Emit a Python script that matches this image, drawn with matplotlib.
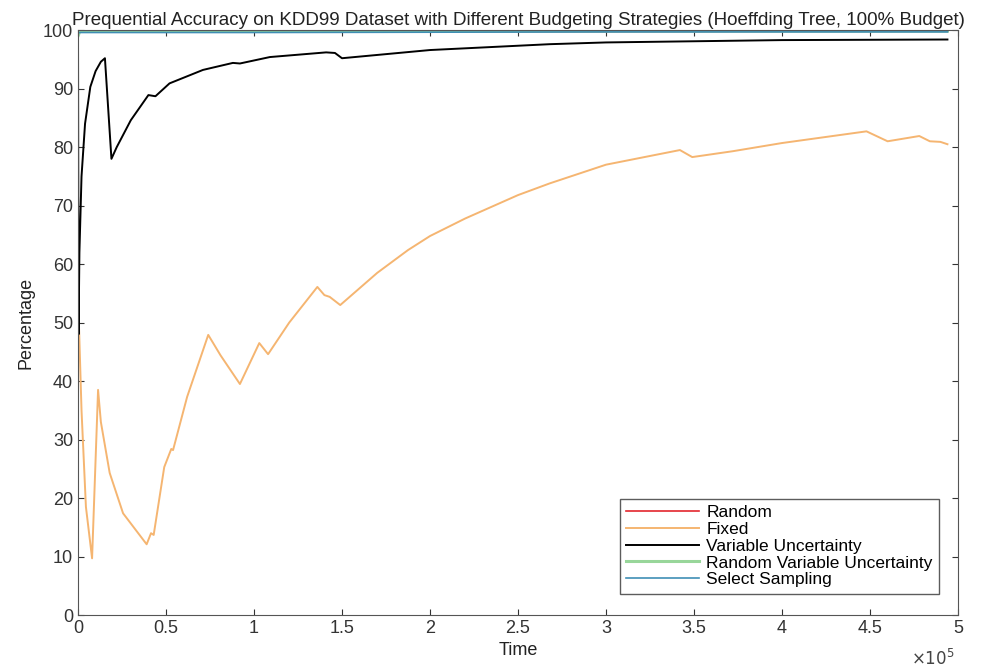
import matplotlib
matplotlib.use("Agg")
import matplotlib.pyplot as plt
from matplotlib.ticker import FuncFormatter

plt.rcParams['font.family'] = ['Liberation Sans', 'DejaVu Sans']

# values (time in samples, accuracy in %)
fixed_t = [0.005e5, 0.02e5, 0.045e5, 0.08e5, 0.114e5, 0.13e5, 0.18e5, 0.256e5, 0.39e5,
           0.415e5, 0.43e5, 0.49e5, 0.53e5, 0.54e5, 0.62e5, 0.74e5, 0.81e5, 0.92e5,
           1.03e5, 1.08e5, 1.2e5, 1.36e5, 1.40e5, 1.43e5, 1.49e5, 1.7e5, 1.875e5, 2.0e5,
           2.2e5, 2.5e5, 2.68e5, 3.0e5, 3.42e5, 3.49e5, 3.72e5, 4.0e5, 4.48e5, 4.6e5,
           4.78e5, 4.84e5, 4.90e5, 4.94e5]
fixed_acc = [50, 35, 18.5, 9.7, 38.5, 33, 24.3, 17.4, 12.1,
             14, 13.7, 25.3, 28.4, 28.2, 37.3, 47.9, 44.4, 39.5,
             46.5, 44.6, 50, 56.1, 54.7, 54.4, 53.0, 58.5, 62.4, 64.8,
             67.8, 71.8, 73.8, 77, 79.5, 78.3, 79.3, 80.7, 82.7, 81.0,
             81.9, 81.0, 80.9, 80.5]

var_t = [0, 0.003e5, 0.008e5, 0.02e5, 0.04e5, 0.07e5, 0.10e5, 0.13e5, 0.153e5, 0.19e5,
         0.22e5, 0.30e5, 0.40e5, 0.44e5, 0.52e5, 0.71e5, 0.88e5, 0.92e5, 1.09e5,
         1.41e5, 1.46e5, 1.5e5, 2.0e5, 2.68e5, 3.0e5, 4.0e5, 4.94e5]
var_acc = [100, 48, 62, 75, 84, 90.3, 93, 94.6, 95.2, 78,
           80, 84.6, 88.9, 88.7, 90.9, 93.2, 94.4, 94.3, 95.4,
           96.2, 96.1, 95.2, 96.6, 97.6, 97.9, 98.3, 98.4]

top_t = [0, 0.01e5, 1e5, 2e5, 3e5, 4e5, 4.94e5]
random_acc = [99.6, 99.7, 99.7, 99.75, 99.75, 99.8, 99.8]
rvu_acc = [99.0, 99.8, 99.8, 99.85, 99.85, 99.85, 99.85]
select_acc = [99.5, 99.6, 99.6, 99.65, 99.7, 99.7, 99.7]

fig = plt.figure(figsize=(10, 6.7), dpi=100)
ax = fig.add_axes([0.078, 0.082, 0.88, 0.873])

ax.plot(top_t, random_acc, color='#e3262e', lw=1.2, label='Random')
ax.plot(fixed_t, fixed_acc, color='#f5b571', lw=1.4, label='Fixed')
ax.plot(var_t, var_acc, color='black', lw=1.4, label='Variable Uncertainty')
ax.plot(top_t, rvu_acc, color='#98d69a', lw=2.2, label='Random Variable Uncertainty')
ax.plot(top_t, select_acc, color='#3f8fb5', lw=1.2, label='Select Sampling')

ax.set_xlim(0, 5e5)
ax.set_ylim(0, 100)
ax.set_xticks([i * 0.5e5 for i in range(11)])
ax.set_yticks(range(0, 101, 10))
ax.xaxis.set_major_formatter(FuncFormatter(lambda v, p: f"{v / 1e5:g}"))
ax.tick_params(direction='in', top=True, right=True, labelsize=13,
               colors='#333333', length=4)
for s in ax.spines.values():
    s.set_color('#555555')

ax.set_title('Prequential Accuracy on KDD99 Dataset with Different Budgeting Strategies '
             '(Hoeffding Tree, 100% Budget)', fontsize=13.5, color='#222222', pad=4)
ax.set_xlabel('Time', fontsize=13, color='#222222', labelpad=4)
ax.set_ylabel('Percentage', fontsize=13, color='#222222', labelpad=6)
fig.text(0.955, 0.008, r'$\times 10^5$', ha='right', fontsize=12, color='#444444')

leg = ax.legend(loc='lower right', fontsize=12.5, handlelength=4.2, labelspacing=0.1,
                borderpad=0.35, handletextpad=0.4, fancybox=False,
                bbox_to_anchor=(0.988, 0.022))
leg.get_frame().set_edgecolor('#333333')
leg.get_frame().set_linewidth(1.0)

fig.savefig('out.png', dpi=100)
